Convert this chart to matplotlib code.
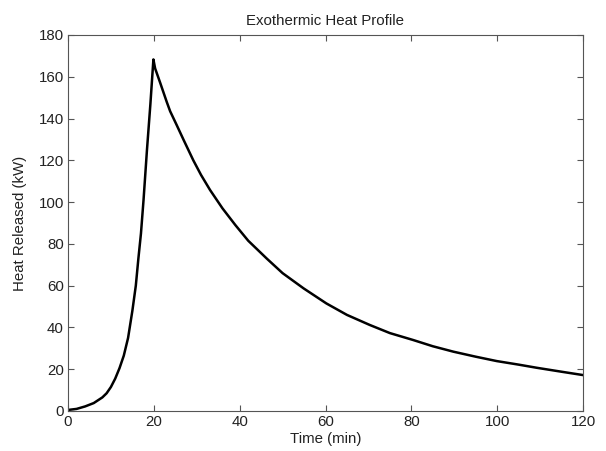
import matplotlib
matplotlib.use("Agg")
import matplotlib.pyplot as plt

time_min = [0, 2, 4, 6, 8, 9, 10, 11, 12, 13, 14, 15, 15.8, 16.4, 17, 17.6, 18.4,
            19.2, 19.9, 20.3, 21.5, 23, 23.8, 25.3, 27, 29.2, 31, 33.1, 36, 39, 42,
            46.3, 50, 54.9, 60.2, 65, 70.3, 75, 80.4, 85, 89.8, 95, 99.9, 105, 109.2,
            115, 120]
heat_kw = [0.5, 1.0, 2.2, 3.8, 6.5, 8.5, 11.5, 15.5, 20.5, 26.5, 35, 48, 60, 73, 85,
           101, 125, 147, 168.3, 164, 157, 148, 143.5, 137, 129.5, 120, 113, 105.8,
           97, 89, 81.5, 73, 66, 58.7, 51.5, 46, 41.2, 37.3, 34, 31, 28.4, 26, 23.9,
           22.2, 20.7, 18.8, 17.2]

plt.rcParams['font.family'] = ['Liberation Sans', 'DejaVu Sans']

fig = plt.figure(figsize=(6.06, 4.51), dpi=100)
ax = fig.add_axes([68/606, 40/451, (583-68)/606, (411-35)/451])

ax.plot(time_min, heat_kw, color='black', linewidth=1.8)
ax.set_xlim(0, 120)
ax.set_ylim(0, 180)
ax.set_xticks(range(0, 121, 20))
ax.set_yticks(range(0, 181, 20))
ax.tick_params(direction='in', top=True, right=True, labelsize=10.8, length=4,
               color='#555555', labelcolor='#222222', pad=3)
for s in ax.spines.values():
    s.set_color('#555555')
    s.set_linewidth(0.8)
ax.set_title('Exothermic Heat Profile', fontsize=10.8, color='#222222', pad=7)
ax.set_xlabel('Time (min)', fontsize=10.8, color='#222222', labelpad=2)
ax.set_ylabel('Heat Released (kW)', fontsize=10.8, color='#222222', labelpad=8)

fig.savefig('out.png', dpi=100)
